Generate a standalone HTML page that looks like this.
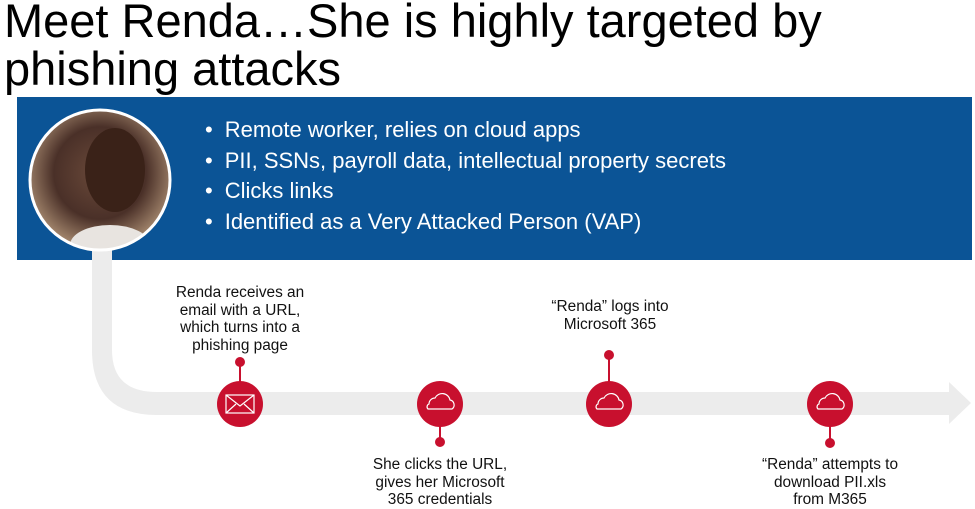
<!DOCTYPE html>
<html><head><style>
body{margin:0;width:975px;height:508px;background:#fff;position:relative;overflow:hidden;font-family:"Liberation Sans",Arial,sans-serif}
.t{position:absolute;left:4px;top:-3px;font-size:47px;line-height:48px;color:#000}
.box{position:absolute;left:17px;top:97px;width:955px;height:163px;background:#0b5496}
ul{position:absolute;left:205px;top:115px;margin:0;padding:0;list-style:none;color:#fff;font-size:22px;line-height:30.7px}
ul li:before{content:"•";margin-right:12px}
.lb{position:absolute;font-size:15.4px;line-height:17.5px;text-align:center;color:#111}
</style></head><body>
<div class="t">Meet Renda…She is highly targeted by<br>phishing attacks</div>
<div class="box"></div>
<ul><li>Remote worker, relies on cloud apps</li><li>PII, SSNs, payroll data, intellectual property secrets</li><li>Clicks links</li><li>Identified as a Very Attacked Person (VAP)</li></ul>
<svg width="975" height="508" style="position:absolute;left:0;top:0">
<defs><radialGradient id="g" cx="50%" cy="45%" r="55%"><stop offset="0" stop-color="#6b4a3a"/><stop offset="0.6" stop-color="#4a3028"/><stop offset="1" stop-color="#a78a70"/></radialGradient>
<clipPath id="cp"><circle cx="100" cy="180" r="70"/></clipPath></defs>
<path d="M92 250 V350 Q92 415 157 415 H949 V424 L971 403 L949 382 V392 H157 Q112 392 112 350 V250 Z" fill="#ececec"/>
<circle cx="100" cy="180" r="70" fill="url(#g)"/>
<g clip-path="url(#cp)"><ellipse cx="110" cy="245" rx="40" ry="20" fill="#e8e4e0"/><ellipse cx="115" cy="170" rx="30" ry="42" fill="#3a2218"/></g>
<circle cx="100" cy="180" r="70" fill="none" stroke="#fff" stroke-width="3"/>
<g stroke="#c8102e" stroke-width="2" fill="#c8102e">
<line x1="240" y1="362" x2="240" y2="385"/><circle cx="240" cy="362" r="4"/>
<line x1="440" y1="420" x2="440" y2="442"/><circle cx="440" cy="442" r="4"/>
<line x1="609" y1="355" x2="609" y2="385"/><circle cx="609" cy="355" r="4"/>
<line x1="830" y1="420" x2="830" y2="443"/><circle cx="830" cy="443" r="4"/>
</g>
<g fill="#c8102e"><circle cx="240" cy="404" r="23"/><circle cx="440" cy="404" r="23"/><circle cx="609" cy="404" r="23"/><circle cx="830" cy="404" r="23"/></g>
<g fill="none" stroke="#fff" stroke-width="1.2">
<rect x="226" y="395" width="28" height="18"/><path d="M226 395 L240 406 L254 395 M226 413 L236 404 M254 413 L244 404"/>
<path d="M-12 6 H12 A5 5 0 0 0 10 -3 A8 8 0 0 0 -5 -5 A6 6 0 0 0 -11 1 A3 3 0 0 0 -12 6 Z" transform="translate(440,403)"/>
<path d="M-12 6 H12 A5 5 0 0 0 10 -3 A8 8 0 0 0 -5 -5 A6 6 0 0 0 -11 1 A3 3 0 0 0 -12 6 Z" transform="translate(609,403)"/>
<path d="M-12 6 H12 A5 5 0 0 0 10 -3 A8 8 0 0 0 -5 -5 A6 6 0 0 0 -11 1 A3 3 0 0 0 -12 6 Z" transform="translate(830,403)"/>
</g>
</svg>
<div class="lb" style="left:140px;top:284px;width:200px">Renda receives an<br>email with a URL,<br>which turns into a<br>phishing page</div>
<div class="lb" style="left:340px;top:456px;width:200px">She clicks the URL,<br>gives her Microsoft<br>365 credentials</div>
<div class="lb" style="left:510px;top:298px;width:200px">“Renda” logs into<br>Microsoft 365</div>
<div class="lb" style="left:730px;top:456px;width:200px">“Renda” attempts to<br>download PII.xls<br>from M365</div>
</body></html>
